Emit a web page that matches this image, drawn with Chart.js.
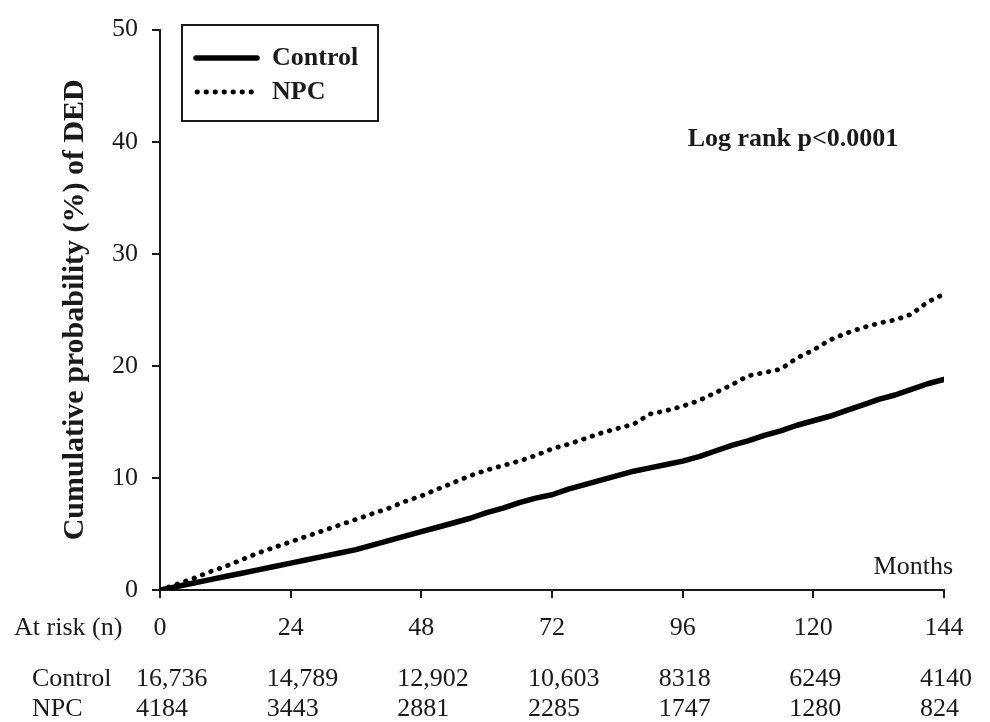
<!DOCTYPE html>
<html><head><meta charset="utf-8">
<script src="https://cdn.jsdelivr.net/npm/chart.js@4.4.0/dist/chart.umd.min.js"></script>
<style>html,body{margin:0;padding:0;background:#fff;}canvas{display:block;}</style>
</head><body>
<canvas id="c" width="990" height="722"></canvas>
<script>
// ---- data ----
const months = [0,3,6,9,12,15,18,21,24,27,30,33,36,39,42,45,48,51,54,57,60,63,66,69,72,75,78,81,84,87,90,93,96,99,102,105,108,111,114,117,120,123,126,129,132,135,138,141,144];
const controlPct = [0,0.3,0.6,0.9,1.2,1.5,1.8,2.1,2.4,2.7,3.0,3.3,3.6,4.0,4.4,4.8,5.2,5.6,6.0,6.4,6.9,7.3,7.8,8.2,8.5,9.0,9.4,9.8,10.2,10.6,10.9,11.2,11.5,11.9,12.4,12.9,13.3,13.8,14.2,14.7,15.1,15.5,16.0,16.5,17.0,17.4,17.9,18.4,18.8];
const npcPct = [0,0.5,1.0,1.6,2.1,2.7,3.3,3.8,4.3,4.8,5.3,5.8,6.3,6.8,7.3,7.9,8.4,9.0,9.6,10.2,10.7,11.1,11.5,12.0,12.6,13.0,13.5,14.0,14.4,14.8,15.7,16.0,16.4,16.9,17.6,18.3,19.1,19.4,19.7,20.7,21.4,22.3,22.9,23.4,23.8,24.1,24.6,25.7,26.4];
const xTicks = [0,24,48,72,96,120,144];
const riskControl = ['16,736','14,789','12,902','10,603','8318','6249','4140'];
const riskNPC = ['4184','3443','2881','2285','1747','1280','824'];
const seriesNames = ['Control','NPC'];

const SERIF = "'Liberation Serif','Times New Roman',serif";
const INK = '#1a1a1a';

const overlay = {
  id:'overlay',
  afterDraw(chart){
    const ctx = chart.ctx, xs = chart.scales.x;
    ctx.save();
    ctx.fillStyle = INK;
    ctx.textBaseline = 'middle';
    // legend box
    ctx.strokeStyle = INK; ctx.lineWidth = 2;
    ctx.strokeRect(182,25,196,96);
    const ds = chart.data.datasets;
    ctx.lineCap = 'round';
    ctx.strokeStyle = ds[0].borderColor; ctx.lineWidth = ds[0].borderWidth; ctx.setLineDash([]);
    ctx.beginPath(); ctx.moveTo(196,58); ctx.lineTo(257,58); ctx.stroke();
    ctx.strokeStyle = ds[1].borderColor; ctx.lineWidth = ds[1].borderWidth; ctx.setLineDash(ds[1].borderDash);
    ctx.beginPath(); ctx.moveTo(197,92); ctx.lineTo(257,92); ctx.stroke();
    ctx.setLineDash([]);
    ctx.font = 'bold 26px ' + SERIF; ctx.textAlign = 'left';
    ctx.fillText(ds[0].label, 272, 58);
    ctx.fillText(ds[1].label, 272, 92);
    // log rank
    ctx.font = 'bold 26px ' + SERIF; ctx.textAlign = 'center';
    ctx.fillText('Log rank p<0.0001', 793, 139);
    // Months
    ctx.font = '26px ' + SERIF; ctx.textAlign = 'right';
    ctx.fillText('Months', 953, 567);
    // risk table
    ctx.textAlign = 'left';
    ctx.fillText('At risk (n)', 14, 628);
    ctx.fillText(seriesNames[0], 32, 679);
    ctx.fillText(seriesNames[1], 32, 709);
    xTicks.forEach((t,i)=>{
      const px = xs.getPixelForValue(t) - 24;
      ctx.fillText(riskControl[i], px, 679);
      ctx.fillText(riskNPC[i], px, 709);
    });
    ctx.restore();
  }
};

new Chart(document.getElementById('c'), {
  type:'line',
  data:{
    datasets:[
      {label:seriesNames[0], data:months.map((m,i)=>({x:m,y:controlPct[i]})), borderColor:'#000', borderWidth:5.5, pointRadius:0, tension:0, borderCapStyle:'round', borderJoinStyle:'round'},
      {label:seriesNames[1], data:months.map((m,i)=>({x:m,y:npcPct[i]})), borderColor:'#000', borderWidth:4.8, borderDash:[0.5,8.5], borderCapStyle:'round', pointRadius:0, tension:0}
    ]
  },
  options:{
    responsive:false, animation:false, devicePixelRatio:1,
    layout:{padding:{left:0,right:46,top:25,bottom:0}},
    plugins:{legend:{display:false}, tooltip:{enabled:false}},
    scales:{
      x:{type:'linear', min:0, max:144,
        afterBuildTicks(s){ s.ticks = xTicks.map(v=>({value:v})); },
        ticks:{font:{family:SERIF,size:26}, color:INK, padding:15, maxRotation:0, autoSkip:false},
        grid:{drawOnChartArea:false, drawTicks:true, tickLength:8, color:INK, lineWidth:2},
        border:{color:INK, width:2},
        afterFit(s){ s.height = 132; }
      },
      y:{min:0, max:50,
        ticks:{stepSize:10, font:{family:SERIF,size:26}, color:INK, padding:14},
        grid:{drawOnChartArea:false, drawTicks:true, tickLength:8, color:INK, lineWidth:2},
        border:{color:INK, width:2},
        title:{display:true, text:'Cumulative probability (%) of DED', font:{family:SERIF,size:30,weight:'bold'}, color:INK, padding:{top:57,bottom:0}},
        afterFit(s){ s.width = 160; }
      }
    }
  },
  plugins:[overlay]
});
</script>
</body></html>
